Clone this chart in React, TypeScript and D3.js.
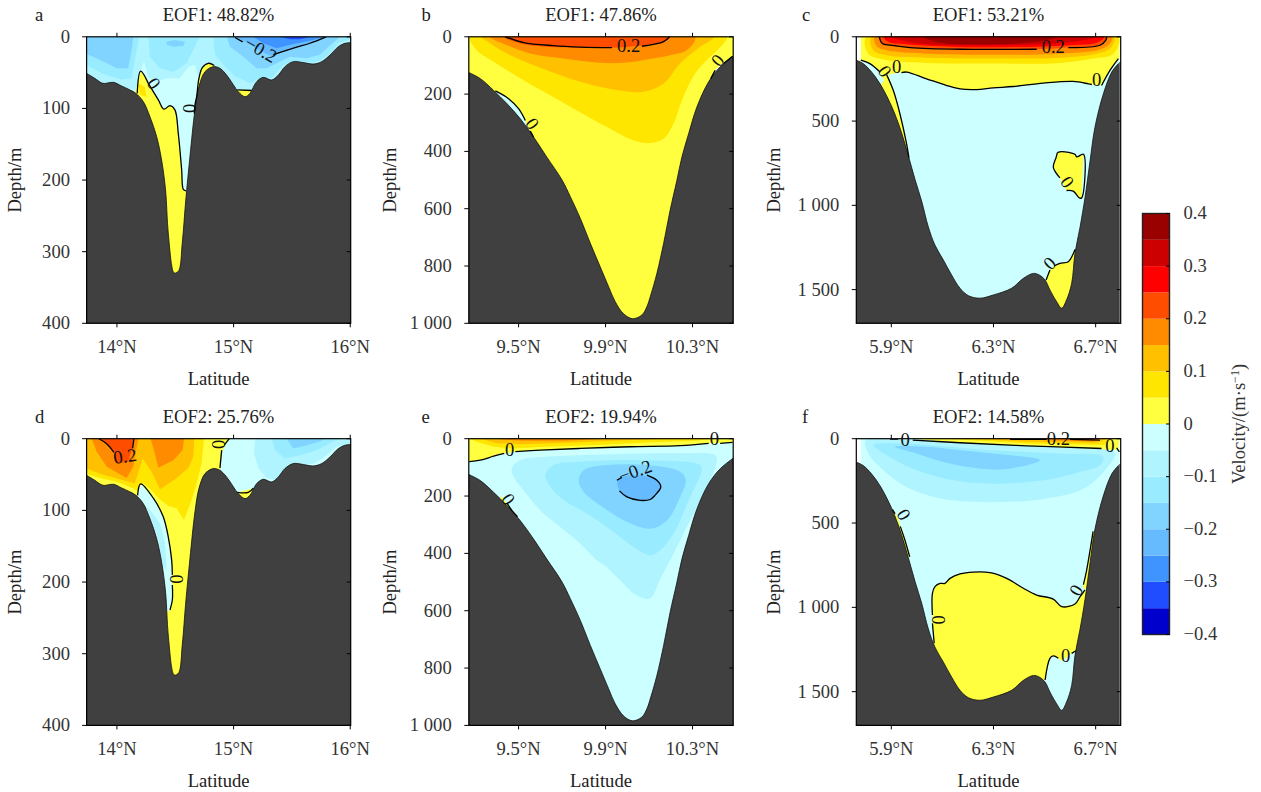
import React from "react";
import * as d3 from "d3";

type P = [number, number];
type Layer = [number, P[], boolean?];
type Lab = [number, number, string, number];

// colour scale
const bandEdges = d3.range(-7, 8).map((i) => i * 0.05);
const bandColors = ["#0000cc", "#1f4dff", "#4094ff", "#66bbff", "#80d4ff", "#99ecff", "#b0f4ff", "#ccffff", "#ffff40", "#ffe600", "#ffc000", "#ff8c00", "#ff4d00", "#ff0000", "#cc0000", "#990000"];
const cbarTicks = [-0.4, -0.3, -0.2, -0.1, 0, 0.1, 0.2, 0.3, 0.4];
const velocityColor = d3.scaleThreshold<number, string>().domain(bandEdges.map((v) => +v.toFixed(2))).range(bandColors);

// bathymetry
const terrainA: P[] = [[13.74,51],[13.81,58],[13.88,65],[13.97,63.6],[14.04,68.7],[14.11,74],[14.163,79],[14.226,90.5],[14.283,111.5],[14.34,139],[14.383,172],[14.417,214],[14.44,274],[14.483,328],[14.497,330],[14.53,326.5],[14.56,288],[14.59,228],[14.626,167],[14.669,102],[14.703,69.6],[14.755,48.7],[14.826,41.7],[14.883,44],[14.94,53.3],[14.998,67],[15.04,76.6],[15.098,83.6],[15.14,79],[15.198,62.6],[15.255,56.6],[15.327,60.3],[15.384,53.3],[15.44,41.7],[15.512,34.7],[15.598,36],[15.684,38],[15.755,34.7],[15.827,25.4],[15.898,13.8],[15.955,9.1],[16.004,8.2]];
const terrainB: P[] = [[9.271,125],[9.324,146],[9.385,187],[9.446,233],[9.508,286],[9.569,350],[9.63,420],[9.7,500],[9.738,558],[9.784,634],[9.83,721],[9.875,802],[9.914,872],[9.944,924],[9.983,967],[10.024,984],[10.067,971],[10.09,942],[10.108,901],[10.136,826],[10.167,721],[10.197,605],[10.228,501],[10.251,420],[10.282,338],[10.32,245],[10.374,157],[10.427,105],[10.487,68]];
const terrainC: P[] = [[5.763,139],[5.79,159],[5.823,209],[5.856,279],[5.888,369],[5.914,458],[5.94,568],[5.967,707],[5.993,847],[6.019,976],[6.045,1128],[6.071,1236],[6.104,1325],[6.136,1413],[6.169,1492],[6.202,1536],[6.247,1551],[6.299,1532],[6.371,1492],[6.417,1433],[6.456,1404],[6.479,1413],[6.502,1443],[6.521,1502],[6.547,1571],[6.567,1610],[6.586,1561],[6.606,1463],[6.619,1285],[6.639,1128],[6.658,956],[6.678,737],[6.697,538],[6.73,339],[6.763,209],[6.789,159]];

// panel a
const layersA: Layer[] = [
  [-0.075, [[13.726,53],[13.883,64],[14.054,71],[14.163,74],[14.212,42],[14.232,35],[14.269,56],[14.326,63],[14.426,58],[14.54,58],[14.612,42],[14.669,39],[14.698,56],[14.769,42],[14.812,37],[14.883,51],[14.998,71],[15.169,77],[16.027,77],[16.027,-5],[13.726,-5]]],
  [-0.125, [[13.726,39],[13.883,52],[14.04,60],[14.126,58],[14.169,18],[14.192,0],[13.726,0]]],
  [-0.125, [[14.269,0],[14.283,28],[14.369,44],[14.483,49],[14.598,37],[14.683,9],[14.712,0]]],
  [-0.125, [[14.826,0],[14.841,25],[14.912,39],[15.012,55],[15.141,65],[15.255,55],[15.327,58],[15.427,39],[15.512,34],[15.598,35],[15.684,36],[15.755,32],[15.827,23],[15.898,9],[16.004,3.5],[16.004,0]]],
  [-0.175, [[13.726,23],[13.854,32],[13.997,44],[14.097,44],[14.126,18],[14.14,0],[13.726,0]]],
  [-0.175, [[14.426,7],[14.497,4.5],[14.583,7],[14.569,13],[14.483,14],[14.426,11]]],
  [-0.175, [[14.941,0],[14.969,14],[15.084,28],[15.198,44],[15.284,44],[15.369,37],[15.484,28],[15.627,30],[15.741,25],[15.813,14],[15.913,0]]],
  [-0.225, [[15.012,0],[15.112,8],[15.212,18],[15.327,27],[15.412,21],[15.527,15],[15.655,9],[15.793,0]]],
  [-0.275, [[15.169,0],[15.255,9],[15.369,16],[15.484,11],[15.655,5.4],[15.784,0]]],
  [-0.325, [[15.398,0],[15.484,3.5],[15.57,3.5],[15.655,0]]],
  [0.025, [[14.203,48],[14.24,56],[14.297,72],[14.355,88],[14.403,101],[14.455,96],[14.497,102],[14.526,135],[14.555,186],[14.569,213],[14.592,215],[14.655,345],[14.426,345],[14.14,88]]],
  [0.075, [[14.183,65],[14.24,70],[14.254,84],[14.197,81]]],
  [0.025, [[14.835,40],[14.783,37],[14.732,43],[14.703,58],[14.683,84],[14.663,107],[14.769,88],[14.941,56]]],
  [0.025, [[15.032,74],[15.155,75],[15.126,86],[15.069,86]]],
];
const linesA: P[][] = [
  [[15.012,1],[15.078,7]],
  [[15.341,25],[15.412,21],[15.527,15],[15.655,9],[15.793,0]],
  [[14.174,79],[14.203,48],[14.269,65]],
  [[14.269,65],[14.355,88],[14.403,101],[14.455,96],[14.497,102],[14.526,135],[14.555,186],[14.569,213],[14.592,215]],
  [[14.835,40],[14.783,37],[14.732,43],[14.703,58],[14.683,84],[14.669,95],[14.663,107]],
  [[15.032,74],[15.155,75]],
];
const labelsA: Lab[] = [[15.235,17.5,"−0.2",30],[14.317,65,"0",55],[14.62,100,"0",90]];

// panel d
const layersD: Layer[] = [
  [-0.075, [[15.184,0],[15.175,20.5],[15.212,41],[15.284,55],[15.369,58],[15.427,45],[15.512,37],[15.684,35],[15.784,25],[15.884,11],[16.004,6.5],[16.004,0]]],
  [-0.125, [[15.327,0],[15.355,16],[15.441,27.5],[15.57,23],[15.713,16],[15.855,4],[15.913,0]]],
  [-0.175, [[15.455,0],[15.512,13.5],[15.627,9],[15.741,4],[15.784,0]]],
  [0.025, [[13.726,0],[14.963,0],[14.906,16],[14.883,41],[14.855,67],[14.712,345],[14.369,345],[13.726,86]]],
  [0.025, [[15.032,75],[15.169,69],[15.141,81],[15.098,86],[15.04,81]]],
  [0.075, [[13.726,0],[14.746,0],[14.726,34.5],[14.683,62],[14.64,86],[14.575,113.5],[14.512,97],[14.44,94],[14.369,85],[14.297,72],[14.226,62],[14.192,74],[14.14,69],[13.997,60],[13.854,55],[13.734,49]]],
  [0.125, [[13.726,0],[14.663,0],[14.655,25],[14.612,41],[14.512,55],[14.369,71],[14.297,46],[14.22,27.5],[14.154,62],[14.054,58],[13.854,49],[13.734,41]]],
  [0.175, [[13.783,0],[13.826,18],[13.912,39],[14.083,55],[14.14,39],[14.183,0]]],
  [0.175, [[14.289,0],[14.317,16],[14.355,40.5],[14.483,30],[14.563,16],[14.575,0]]],
  [0.225, [[13.84,0],[13.912,6.5],[13.974,18],[13.997,34.5],[14.097,32],[14.126,16],[14.146,0]]],
  [-0.025, [[14.203,63],[14.312,83],[14.397,109],[14.44,137],[14.469,169],[14.475,225],[14.455,239],[14.435,242],[14.197,86],[14.177,79]]],
  [-0.075, [[14.254,93],[14.369,118],[14.412,146],[14.426,183],[14.397,179],[14.355,141],[14.297,113.5]]],
];
const linesD: P[][] = [
  [[13.846,0],[13.912,7],[13.974,19]],
  [[14.146,0],[14.134,13.5]],
  [[14.177,79],[14.203,63],[14.312,83],[14.397,109],[14.44,137],[14.469,169],[14.475,190]],
  [[14.475,204],[14.475,225],[14.455,239]],
  [[14.963,0],[14.92,9]],
  [[14.898,16],[14.883,41]],
  [[15.032,75],[15.126,75],[15.169,69]],
];
const labelsD: Lab[] = [[14.069,24,"0.2",-8],[14.512,196,"0",90],[14.875,8,"0",90]];

// panel b
const layersB: Layer[] = [
  [0.025, [[9.27,-5],[10.49,-5],[10.49,1100],[9.27,1100]]],
  [0.075, [[9.278,0],[9.308,47],[9.385,87],[9.523,152],[9.63,198],[9.768,257],[9.906,315],[10.029,362],[10.105,371],[10.167,356],[10.213,303],[10.251,222],[10.312,128],[10.381,70],[10.443,23],[10.458,0]], true],
  [0.125, [[9.331,0],[9.37,23],[9.477,70],[9.63,117],[9.784,157],[9.937,184],[10.075,192],[10.167,163],[10.243,93],[10.335,35],[10.397,0]], true],
  [0.175, [[9.37,0],[9.446,29],[9.554,58],[9.707,76],[9.86,90],[9.983,91],[10.09,79],[10.197,64],[10.274,47],[10.312,0]], true],
  [0.225, [[9.431,0],[9.508,23],[9.63,35],[9.784,38],[9.937,38],[10.09,29],[10.167,17],[10.197,0]], true],
  [-0.025, [[9.393,189],[9.454,216],[9.5,251],[9.531,292],[9.546,321],[9.566,344],[9.45,300]]],
  [-0.025, [[10.384,146],[10.404,117],[10.43,97],[10.458,82],[10.484,68],[10.487,120]]],
];
const linesB: P[][] = [
  [[9.439,0],[9.523,20],[9.661,31],[9.784,36],[9.929,38]],
  [[10.067,33],[10.167,17],[10.194,0]],
  [[9.393,189],[9.454,216],[9.5,251],[9.531,292]],
  [[9.554,329],[9.569,350]],
  [[10.384,146],[10.404,117]],
  [[10.443,93],[10.484,68]],
];
const labelsB: Lab[] = [[10.006,31.5,"0.2",0],[9.564,303,"0",55],[10.415,82,"0",-50]];

// panel e
const layersE: Layer[] = [
  [-0.075, [[9.469,104],[9.508,75],[9.63,63],[9.937,54],[10.243,51],[10.404,57],[10.412,75],[10.381,145],[10.32,238],[10.243,354],[10.197,424],[10.151,489],[10.105,557],[10.044,547],[9.967,494],[9.906,448],[9.86,424],[9.784,366],[9.692,308],[9.6,250],[9.523,180],[9.477,133]], true],
  [-0.125, [[9.623,127],[9.661,92],[9.784,80],[10.09,75],[10.335,92],[10.343,110],[10.289,203],[10.213,331],[10.151,389],[10.105,407],[10.029,378],[9.937,325],[9.814,261],[9.707,215],[9.646,168]], true],
  [-0.175, [[9.776,145],[9.799,110],[9.906,92],[10.09,92],[10.243,115],[10.269,145],[10.243,203],[10.182,285],[10.105,314],[9.998,290],[9.875,232],[9.799,185]], true],
  [-0.225, [[9.955,145],[9.99,131],[10.09,131],[10.136,145],[10.154,168],[10.128,197],[10.105,212],[10.059,215],[9.998,203],[9.967,185]], true],
  [0.025, [[9.27,0],[10.49,0],[10.484,13],[10.427,16],[10.374,16],[10.243,24.5],[10.014,28],[9.784,34],[9.6,40],[9.5,45],[9.434,51],[9.385,61],[9.324,75],[9.273,80]]],
  [0.025, [[9.416,197],[9.446,226],[9.495,272],[9.469,273],[9.423,225]]],
  [0.075, [[9.273,0],[9.308,10.5],[9.385,28],[9.477,34],[9.63,28],[9.86,22],[10.09,13],[10.32,7],[10.397,0]]],
  [0.125, [[9.324,0],[9.4,16],[9.508,19],[9.707,14],[9.937,7],[10.167,0]]],
  [0.175, [[9.385,0],[9.508,7],[9.707,7],[9.906,0]]],
];
const linesE: P[][] = [
  [[9.273,80],[9.324,75],[9.385,61],[9.434,51]],
  [[9.485,45],[9.6,40],[9.784,34],[10.014,28],[10.243,24.5],[10.374,16]],
  [[10.427,16],[10.484,13]],
  [[9.446,224],[9.469,250],[9.495,272]],
  [[9.952,145],[9.975,135]],
  [[10.09,127],[10.136,145],[10.154,168],[10.128,197],[10.105,212],[10.059,215],[9.998,203],[9.964,182]],
];
const labelsE: Lab[] = [[9.459,36,"0",0],[10.401,1,"0",0],[9.454,211,"0",55],[10.036,112,"−0.2",-20]];

// panel c
const layersC: Layer[] = [
  [0.025, [[5.781,0],[6.793,0],[6.793,129],[6.756,199],[6.723,289],[6.671,279],[6.612,265],[6.495,275],[6.378,295],[6.299,303],[6.234,313],[6.169,309],[6.117,289],[6.038,249],[5.96,209],[5.921,215],[5.888,223],[5.908,319],[5.934,458],[5.96,637],[5.969,717],[5.777,717],[5.777,135],[5.781,135]]],
  [-0.025, [[5.781,135],[5.816,159],[5.856,209],[5.871,259],[5.849,309],[5.777,199]]],
  [0.075, [[5.803,0],[5.81,100],[5.869,135],[6.038,155],[6.299,159],[6.56,155],[6.691,129],[6.769,100],[6.789,0]], true],
  [0.125, [[5.823,0],[5.83,80],[5.882,110],[6.038,124],[6.299,129],[6.56,124],[6.704,100],[6.756,70],[6.772,0]], true],
  [0.175, [[5.836,0],[5.843,56],[5.882,80],[6.038,100],[6.299,106],[6.56,100],[6.717,76],[6.756,40],[6.763,0]], true],
  [0.225, [[5.853,0],[5.865,40],[5.895,50],[5.973,64],[6.169,74],[6.469,74],[6.593,64],[6.717,50],[6.74,20],[6.743,0]], true],
  [0.275, [[5.871,0],[5.888,30],[5.973,46],[6.169,60],[6.43,60],[6.599,50],[6.704,36],[6.733,0]], true],
  [0.325, [[5.901,0],[5.947,24],[6.038,44],[6.299,50],[6.534,40],[6.639,24],[6.704,0]], true],
  [0.375, [[6.025,0],[6.091,36],[6.234,46],[6.43,36],[6.508,20],[6.547,0]], true],
  [0.025, [[6.55,687],[6.567,681],[6.619,697],[6.626,713],[6.652,697],[6.645,956],[6.636,956],[6.612,916],[6.586,912],[6.56,837],[6.534,773],[6.545,717]]],
  [0.025, [[6.506,1443],[6.521,1384],[6.537,1360],[6.56,1345],[6.593,1335],[6.61,1295],[6.619,1262],[6.632,1266],[6.652,1502],[6.567,1640],[6.495,1473]]],
];
const linesC: P[][] = [
  [[5.853,0],[5.865,40],[5.895,50],[5.973,64],[6.169,74],[6.469,74]],
  [[6.593,64],[6.717,50],[6.74,20],[6.743,0]],
  [[5.781,139],[5.816,159],[5.856,209]],
  [[5.94,213],[5.96,209],[6.038,249],[6.117,289],[6.169,309],[6.234,313],[6.299,303],[6.378,295],[6.495,275],[6.612,265],[6.671,279],[6.685,283]],
  [[6.723,289],[6.756,199],[6.789,129]],
  [[5.882,226],[5.908,319],[5.934,458],[5.96,637],[5.969,717]],
  [[6.55,687],[6.567,681],[6.619,697],[6.626,713],[6.652,697],[6.645,956],[6.636,956],[6.612,916],[6.586,912]],
  [[6.56,837],[6.534,773],[6.545,717],[6.55,687]],
  [[6.506,1443],[6.521,1384]],
  [[6.537,1360],[6.56,1345],[6.593,1335],[6.61,1295],[6.619,1262]],
];
const labelsC: Lab[] = [[6.534,60,"0.2",0],[5.875,203,"0",55],[5.921,179,"0",0],[6.704,255,"0",0],[6.59,861,"0",55],[6.519,1343,"0",-45]];

// panel f
const layersF: Layer[] = [
  [-0.075, [[5.801,8],[6.038,18],[6.43,38],[6.756,68],[6.776,88],[6.743,177],[6.652,297],[6.495,357],[6.325,376],[6.104,357],[5.973,297],[5.869,187],[5.81,88]], true],
  [-0.125, [[5.83,38],[5.934,28],[6.299,68],[6.56,88],[6.73,108],[6.717,157],[6.639,197],[6.495,247],[6.299,267],[6.143,247],[5.999,187],[5.882,98]], true],
  [-0.175, [[5.914,48],[6.038,48],[6.169,68],[6.299,88],[6.482,127],[6.43,157],[6.325,183],[6.195,167],[6.077,127],[5.999,88]], true],
  [0.025, [[5.986,0],[6.169,24],[6.43,42],[6.73,62],[6.789,68],[6.793,0]]],
  [0.075, [[6.117,0],[6.43,28],[6.73,38],[6.769,0]]],
  [0.125, [[6.221,0],[6.43,18],[6.704,24],[6.743,0]]],
  [0.175, [[6.299,0],[6.495,8],[6.691,16],[6.717,0]]],
  [0.225, [[6.469,0],[6.691,8],[6.697,0]]],
  [0.025, [[5.905,420],[5.925,470],[5.951,590],[5.972,700],[5.882,700],[5.882,420]]],
  [0.025, [[6.69,550],[6.664,785],[6.65,890],[6.72,890],[6.73,550]]],
  [0.025, [[6.061,917],[6.071,877],[6.091,858],[6.11,858],[6.13,828],[6.169,802],[6.221,791],[6.286,794],[6.352,828],[6.417,887],[6.469,927],[6.534,951],[6.567,996],[6.619,980],[6.639,937],[6.658,897],[6.691,897],[6.652,1312],[6.623,1257],[6.606,1273],[6.567,1316],[6.534,1288],[6.521,1302],[6.502,1431],[6.43,1549],[6.064,1549],[6.068,1213],[6.061,1095]]],
];
const linesF: P[][] = [
  [[5.895,2],[5.927,2]],
  [[5.984,8],[6.169,24],[6.43,42],[6.723,58]],
  [[6.782,54],[6.793,78]],
  [[6.365,4],[6.508,4]],
  [[6.599,4],[6.717,8]],
  [[5.905,420],[5.915,445]],
  [[5.935,520],[5.951,590],[5.972,700]],
  [[6.69,550],[6.664,785],[6.652,865]],
  [[6.061,1045],[6.061,917],[6.071,877],[6.091,858],[6.11,858],[6.13,828],[6.169,802],[6.221,791],[6.286,794],[6.352,828],[6.417,887],[6.469,927],[6.534,951],[6.567,996],[6.619,980],[6.639,937],[6.658,897]],
  [[6.061,1095],[6.068,1213]],
  [[6.502,1431],[6.521,1302],[6.534,1288],[6.554,1302]],
  [[6.606,1273],[6.623,1257]],
];
const labelsF: Lab[] = [[5.954,2,"0",0],[6.554,0,"0.2",0],[6.756,38,"0",0],[5.95,450,"0",60],[6.623,898,"0",-60],[6.084,1075,"0",90],[6.582,1283,"0",0]];

// axes
const latDomainA: P = [13.74, 16.004];
const latDomainB: P = [9.271, 10.487];
const latDomainC: P = [5.763, 6.798];
const latTicksA = [14, 15, 16];
const latTicksB = [9.5, 9.9, 10.3];
const latTicksC = [5.9, 6.3, 6.7];
const depthTicksA = [0, 100, 200, 300, 400];
const depthTicksB = [0, 200, 400, 600, 800, 1000];
const depthTicksC = [0, 500, 1000, 1500];
const dataLatRangeC: P = [5.781, 6.793];
const shelfStrip = { lat: [6.789, 6.798], depthTop: 150 };

const ink = "#333";
const FONT = "'Liberation Serif', 'Times New Roman', serif";
const FS = 18.6;

interface PanelProps {
  id: string; letter: string; title: string; x0: number; x1: number; y0: number; y1: number;
  latDomain: P; latTicks: number[]; depthMax: number; depthTicks: number[];
  terrain: P[]; layers: Layer[]; lines: P[][]; labels: Lab[]; base: [number, number]; strip?: boolean;
  letterX: number; tickEnd: number; titleX: number; yTitleX: number;
}

function Panel(p: PanelProps) {
  const x = d3.scaleLinear().domain(p.latDomain).range([p.x0, p.x1]);
  const y = d3.scaleLinear().domain([0, p.depthMax]).range([p.y0, p.y1]);
  const straight = d3.line<P>().x((d) => x(d[0])).y((d) => y(d[1]));
  const closedLinear = d3.line<P>().x((d) => x(d[0])).y((d) => y(d[1])).curve(d3.curveLinearClosed);
  const closedSmooth = d3.line<P>().x((d) => x(d[0])).y((d) => y(d[1])).curve(d3.curveCatmullRomClosed.alpha(0.5));
  const open = d3.line<P>().x((d) => x(d[0])).y((d) => y(d[1])).curve(d3.curveCatmullRom.alpha(0.5));
  const last = p.terrain[p.terrain.length - 1];
  const corners: P[] = p.strip
    ? [[last[0], p.depthMax], [p.latDomain[0], p.depthMax]]
    : [[p.latDomain[1], last[1]], [p.latDomain[1], p.depthMax], [p.latDomain[0], p.depthMax]];
  const terrainPath = (open(p.terrain) as string) + (straight(corners) as string).replace("M", "L") + "Z";
  const clip = `clip-${p.id}`;
  const midX = (p.x0 + p.x1) / 2;
  const midY = (p.y0 + p.y1) / 2;
  const digits = (v: number) => d3.format(",")(v).replace(",", " ");
  return (
    <g fontFamily={FONT} fontSize={FS} fill={ink}>
      <defs><clipPath id={clip}><rect x={p.x0} y={p.y0} width={p.x1 - p.x0} height={p.y1 - p.y0} /></clipPath></defs>
      <g clipPath={`url(#${clip})`}>
        <rect x={x(p.base[0])} y={p.y0} width={x(p.base[1]) - x(p.base[0])} height={p.y1 - p.y0} fill={velocityColor(-0.025)} />
        {p.layers.map((l, i) => (
          <path key={i} d={(l[2] ? closedSmooth : closedLinear)(l[1]) as string} fill={velocityColor(l[0])} />
        ))}
        <path d={terrainPath} fill="#404040" stroke="#111" strokeWidth={0.8} />
        {p.strip && (
          <rect x={x(shelfStrip.lat[0]) + 0.5} y={y(shelfStrip.depthTop)} width={x(shelfStrip.lat[1]) - x(shelfStrip.lat[0])} height={p.y1 - y(shelfStrip.depthTop)} fill="#707070" />
        )}
        {p.lines.map((l, i) => (
          <path key={i} d={(l.length > 2 ? open : straight)(l) as string} fill="none" stroke="#000" strokeWidth={1.3} />
        ))}
      </g>
      <rect x={p.x0} y={p.y0} width={p.x1 - p.x0} height={p.y1 - p.y0} fill="none" stroke="#000" strokeWidth={1.2} />
      {p.latTicks.map((t) => (
        <g key={t}>
          <line x1={x(t)} x2={x(t)} y1={p.y1} y2={p.y1 + 4} stroke="#000" strokeWidth={1} />
          <line x1={x(t)} x2={x(t)} y1={p.y0} y2={p.y0 - 4} stroke="#000" strokeWidth={1} />
          <text x={x(t)} y={p.y1 + 30} textAnchor="middle">{`${t}°N`}</text>
        </g>
      ))}
      {p.depthTicks.map((t) => (
        <g key={t}>
          <line x1={p.x0 - 4.5} x2={p.x0} y1={y(t)} y2={y(t)} stroke="#000" strokeWidth={1} />
          <line x1={p.x1 - 4} x2={p.x1} y1={y(t)} y2={y(t)} stroke="#000" strokeWidth={1} />
          <text x={p.tickEnd} y={y(t) + 6} textAnchor="end">{digits(t)}</text>
        </g>
      ))}
      <text x={midX} y={p.y1 + 61.5} textAnchor="middle" fill="#222">Latitude</text>
      <text transform={`translate(${p.yTitleX},${midY}) rotate(-90)`} textAnchor="middle" fill="#222">Depth/m</text>
      <text x={p.titleX} y={p.y0 - 15.5} textAnchor="middle" fill="#222">{p.title}</text>
      <text x={p.letterX} y={p.y0 - 15.5} fill="#222">{p.letter}</text>
      {p.labels.map((l, i) => (
        <text key={i} transform={`translate(${x(l[0])},${y(l[1])}) rotate(${l[3]})`} textAnchor="middle" dominantBaseline="central" fill="#111">{l[2]}</text>
      ))}
    </g>
  );
}

function ColorBar() {
  const x0 = 1142.5, x1 = 1169.5;
  const y = d3.scaleLinear().domain([-0.4, 0.4]).range([634.5, 213.5]);
  const edges = [-0.4, ...bandEdges.map((v) => +v.toFixed(2)), 0.4];
  const fmt = (v: number) => (v === 0 ? "0" : (v < 0 ? "−" : "") + Math.abs(v).toFixed(1));
  return (
    <g fontFamily={FONT} fontSize={FS} fill={ink}>
      {bandColors.map((c, i) => (
        <rect key={i} x={x0} y={y(edges[i + 1])} width={x1 - x0} height={y(edges[i]) - y(edges[i + 1])} fill={c} />
      ))}
      <rect x={x0} y={213.5} width={x1 - x0} height={421} fill="none" stroke="#222" strokeWidth={1.4} />
      {cbarTicks.map((t) => (
        <g key={t}>
          <line x1={x1 - 3.5} x2={x1} y1={y(t)} y2={y(t)} stroke="#000" strokeWidth={1} />
          <text x={1183.5} y={y(t) + 5.5}>{fmt(t)}</text>
        </g>
      ))}
      <text transform="translate(1245,424) rotate(-90)" textAnchor="middle">
        Velocity/(m·s<tspan dy={-6} fontSize={12}>−1</tspan><tspan dy={6}>)</tspan>
      </text>
    </g>
  );
}

export default function App() {
  const rowA = { y0: 36.8, y1: 323.3 };
  const rowB = { y0: 438.7, y1: 725.4 };
  const colA = { x0: 86.6, x1: 350.7, latDomain: latDomainA, latTicks: latTicksA, depthMax: 400, depthTicks: depthTicksA, terrain: terrainA, letterX: 35, tickEnd: 70, titleX: 218.5, yTitleX: 21, base: latDomainA };
  const colB = { x0: 468.8, x1: 733.2, latDomain: latDomainB, latTicks: latTicksB, depthMax: 1000, depthTicks: depthTicksB, terrain: terrainB, letterX: 421.5, tickEnd: 451.7, titleX: 601, yTitleX: 395.5, base: latDomainB };
  const colC = { x0: 856.3, x1: 1120.7, latDomain: latDomainC, latTicks: latTicksC, depthMax: 1700, depthTicks: depthTicksC, terrain: terrainC, letterX: 802, tickEnd: 839.3, titleX: 988.5, yTitleX: 780, base: dataLatRangeC, strip: true };
  return (
    <svg width={1261} height={792} style={{ position: "absolute", left: 0, top: 0, display: "block" }}>
      <rect width={1261} height={792} fill="#fff" />
      <Panel id="a" letter="a" title="EOF1: 48.82%" {...rowA} {...colA} layers={layersA} lines={linesA} labels={labelsA} />
      <Panel id="b" letter="b" title="EOF1: 47.86%" {...rowA} {...colB} layers={layersB} lines={linesB} labels={labelsB} />
      <Panel id="c" letter="c" title="EOF1: 53.21%" {...rowA} {...colC} layers={layersC} lines={linesC} labels={labelsC} />
      <Panel id="d" letter="d" title="EOF2: 25.76%" {...rowB} {...colA} layers={layersD} lines={linesD} labels={labelsD} />
      <Panel id="e" letter="e" title="EOF2: 19.94%" {...rowB} {...colB} layers={layersE} lines={linesE} labels={labelsE} />
      <Panel id="f" letter="f" title="EOF2: 14.58%" {...rowB} {...colC} layers={layersF} lines={linesF} labels={labelsF} />
      <ColorBar />
    </svg>
  );
}
